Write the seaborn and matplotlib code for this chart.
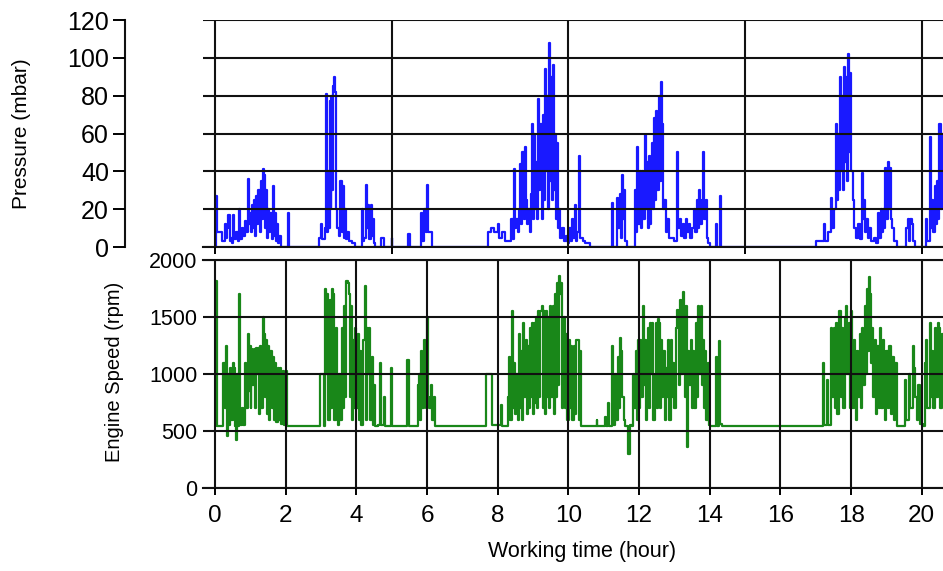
import matplotlib
matplotlib.use("Agg")
import pandas as pd
import matplotlib.pyplot as plt
import seaborn as sns

# pressure samples: (hour, mbar)
pressure_points = [
    (0.0, 0), (0.02, 27), (0.05, 8), (0.19, 8), (0.21, 3), (0.26, 3), (0.28, 12), (0.31, 5),
    (0.35, 10), (0.38, 17), (0.41, 3), (0.45, 5), (0.47, 2), (0.52, 17), (0.55, 4), (0.6, 8),
    (0.64, 3), (0.68, 20), (0.71, 4), (0.76, 10), (0.8, 6), (0.84, 14), (0.88, 8), (0.93, 36),
    (0.96, 12), (0.99, 18), (1.02, 8), (1.05, 22), (1.08, 10), (1.11, 25), (1.14, 6), (1.17, 27),
    (1.2, 12), (1.23, 30), (1.26, 8), (1.29, 35), (1.32, 15), (1.35, 41), (1.38, 38), (1.41, 10),
    (1.44, 30), (1.47, 5), (1.5, 20), (1.53, 8), (1.57, 18), (1.6, 4), (1.63, 32), (1.66, 6),
    (1.69, 18), (1.72, 3), (1.75, 12), (1.78, 2), (1.82, 6), (1.86, 0), (2.06, 18), (2.08, 0),
    (2.93, 5), (2.99, 12), (3.03, 4), (3.1, 10), (3.13, 81), (3.16, 8), (3.19, 40), (3.22, 10),
    (3.24, 77), (3.27, 20), (3.29, 80), (3.32, 30), (3.34, 85), (3.37, 90), (3.4, 82), (3.42, 20),
    (3.45, 10), (3.5, 6), (3.55, 35), (3.58, 8), (3.61, 32), (3.64, 5), (3.67, 20), (3.7, 4),
    (3.74, 8), (3.8, 3), (3.88, 2), (3.95, 0), (4.15, 20), (4.18, 3), (4.22, 5), (4.26, 33),
    (4.29, 10), (4.32, 22), (4.35, 4), (4.4, 22), (4.43, 6), (4.46, 15), (4.49, 2), (4.53, 0),
    (4.71, 5), (4.78, 0), (5.0, 5), (5.02, 0), (5.46, 7), (5.52, 0), (5.83, 18), (5.87, 3),
    (5.92, 20), (5.96, 8), (5.99, 33), (6.02, 8), (6.1, 8), (6.13, 0),
    (7.72, 8), (7.8, 10), (7.9, 8), (8.0, 12), (8.05, 5), (8.12, 8), (8.2, 3), (8.33, 3),
    (8.38, 15), (8.42, 4), (8.46, 41), (8.49, 10), (8.53, 15), (8.56, 8), (8.6, 20), (8.64, 44),
    (8.67, 12), (8.7, 50), (8.73, 15), (8.76, 53), (8.79, 25), (8.82, 12), (8.86, 20), (8.9, 8),
    (8.93, 28), (8.96, 65), (8.99, 15), (9.02, 60), (9.05, 20), (9.09, 45), (9.12, 15), (9.15, 78),
    (9.18, 30), (9.21, 65), (9.24, 15), (9.27, 70), (9.3, 25), (9.33, 94), (9.36, 40), (9.39, 80),
    (9.42, 20), (9.44, 108), (9.47, 35), (9.5, 90), (9.53, 25), (9.55, 96), (9.58, 30), (9.61, 60),
    (9.64, 15), (9.67, 55), (9.7, 10), (9.73, 20), (9.77, 5), (9.82, 10), (9.87, 3), (9.93, 6),
    (9.98, 2), (10.03, 10), (10.06, 3), (10.1, 15), (10.13, 5), (10.18, 22), (10.21, 3), (10.25, 8),
    (10.29, 48), (10.32, 25), (10.34, 5), (10.4, 3), (10.48, 2), (10.6, 0),
    (11.22, 23), (11.25, 0), (11.38, 26), (11.41, 10), (11.45, 28), (11.48, 5), (11.52, 38),
    (11.55, 15), (11.58, 30), (11.61, 3), (11.66, 0), (11.88, 30), (11.91, 8), (11.95, 53),
    (11.98, 12), (12.02, 40), (12.05, 10), (12.09, 40), (12.12, 15), (12.16, 59), (12.19, 20),
    (12.22, 45), (12.25, 10), (12.28, 48), (12.31, 12), (12.34, 30), (12.37, 55), (12.4, 20),
    (12.43, 68), (12.46, 25), (12.49, 72), (12.52, 30), (12.55, 80), (12.58, 35), (12.62, 87),
    (12.65, 65), (12.68, 20), (12.71, 25), (12.75, 8), (12.8, 15), (12.85, 5), (12.92, 5),
    (12.98, 3), (13.08, 50), (13.11, 10), (13.15, 15), (13.19, 6), (13.24, 12), (13.28, 5),
    (13.32, 15), (13.36, 8), (13.4, 12), (13.44, 5), (13.5, 10), (13.55, 20), (13.59, 8),
    (13.63, 25), (13.66, 10), (13.7, 30), (13.73, 12), (13.78, 25), (13.82, 50), (13.85, 15),
    (13.88, 25), (13.92, 5), (13.96, 2), (14.02, 0), (14.18, 12), (14.21, 0), (14.28, 27), (14.31, 0),
    (17.0, 3), (17.15, 3), (17.23, 12), (17.27, 3), (17.35, 8), (17.44, 26), (17.47, 10),
    (17.52, 20), (17.56, 65), (17.59, 25), (17.62, 60), (17.65, 30), (17.68, 90), (17.71, 40),
    (17.74, 80), (17.77, 30), (17.8, 95), (17.83, 45), (17.86, 90), (17.89, 35), (17.92, 102),
    (17.95, 50), (17.98, 92), (18.01, 40), (18.04, 25), (18.08, 10), (18.13, 5), (18.2, 12),
    (18.24, 4), (18.3, 39), (18.33, 15), (18.36, 25), (18.39, 8), (18.43, 15), (18.47, 5),
    (18.52, 10), (18.57, 3), (18.64, 5), (18.7, 2), (18.76, 18), (18.8, 5), (18.84, 20),
    (18.87, 8), (18.91, 20), (18.94, 10), (18.97, 42), (19.0, 15), (19.03, 45), (19.06, 20),
    (19.09, 42), (19.12, 15), (19.16, 10), (19.21, 3), (19.3, 0), (19.56, 10), (19.6, 15),
    (19.64, 3), (19.68, 15), (19.71, 12), (19.75, 3), (19.8, 0),
    (20.12, 15), (20.15, 3), (20.22, 58), (20.25, 10), (20.29, 25), (20.32, 8), (20.36, 32),
    (20.39, 12), (20.42, 35), (20.45, 15), (20.5, 65), (20.53, 20), (20.56, 60), (20.6, 30),
]

# engine speed samples: (hour, rpm)
speed_points = [
    (0.0, 540), (0.03, 1820), (0.06, 540), (0.22, 540), (0.24, 1100), (0.27, 700), (0.3, 1250),
    (0.33, 460), (0.36, 1000), (0.4, 550), (0.43, 1050), (0.46, 600), (0.51, 1100), (0.54, 1050),
    (0.57, 540), (0.6, 420), (0.62, 1000), (0.65, 540), (0.68, 1700), (0.71, 550), (0.75, 700),
    (0.8, 550), (0.86, 1100), (0.89, 700), (0.92, 1350), (0.95, 850), (0.98, 1250), (1.01, 700),
    (1.03, 1220), (1.06, 900), (1.09, 1220), (1.12, 700), (1.16, 1230), (1.19, 1000), (1.22, 1230),
    (1.25, 650), (1.28, 1250), (1.31, 700), (1.35, 1500), (1.38, 1350), (1.41, 800), (1.44, 1300),
    (1.47, 650), (1.5, 1250), (1.53, 600), (1.57, 1200), (1.6, 700), (1.63, 1150), (1.66, 600),
    (1.7, 1100), (1.73, 580), (1.77, 1050), (1.8, 600), (1.84, 1050), (1.88, 560), (1.92, 1030),
    (1.96, 550), (2.0, 1030), (2.04, 540),
    (2.98, 1000), (3.03, 1000), (3.07, 540), (3.1, 1750), (3.13, 1000), (3.17, 1700), (3.2, 600),
    (3.24, 1650), (3.27, 700), (3.31, 1750), (3.34, 1700), (3.37, 600), (3.41, 1400), (3.44, 700),
    (3.47, 550), (3.51, 1000), (3.55, 600), (3.59, 1400), (3.62, 700), (3.65, 1600), (3.68, 800),
    (3.72, 1820), (3.75, 1800), (3.78, 1700), (3.81, 800), (3.84, 1600), (3.87, 600), (3.91, 1300),
    (3.94, 700), (3.97, 1400), (4.0, 700), (4.04, 1350), (4.07, 600), (4.11, 1200), (4.14, 550),
    (4.2, 1300), (4.24, 1770), (4.27, 600), (4.3, 1400), (4.33, 1000), (4.36, 1400), (4.39, 600),
    (4.43, 1150), (4.46, 550), (4.5, 900), (4.53, 540), (4.62, 550), (4.66, 1100), (4.69, 550),
    (4.77, 800), (4.8, 540), (4.97, 1050), (5.0, 540),
    (5.44, 1120), (5.49, 540), (5.74, 900), (5.77, 1000), (5.8, 600), (5.84, 1200), (5.87, 700),
    (5.9, 1300), (5.93, 1150), (5.96, 700), (5.99, 1500), (6.02, 800), (6.06, 700), (6.1, 900),
    (6.13, 600), (6.2, 800), (6.23, 540),
    (7.68, 1000), (7.8, 1000), (7.84, 550), (8.08, 730), (8.11, 540), (8.28, 800), (8.32, 1150),
    (8.35, 600), (8.39, 1550), (8.42, 700), (8.46, 1100), (8.49, 650), (8.53, 1000), (8.56, 600),
    (8.6, 1350), (8.63, 700), (8.66, 1200), (8.69, 600), (8.72, 1450), (8.75, 800), (8.79, 1300),
    (8.82, 650), (8.85, 1250), (8.88, 700), (8.91, 1400), (8.94, 800), (8.97, 1450), (9.0, 650),
    (9.03, 1450), (9.06, 750), (9.09, 1500), (9.12, 700), (9.15, 1550), (9.18, 800), (9.21, 1550),
    (9.24, 1600), (9.27, 700), (9.3, 1550), (9.33, 650), (9.36, 1550), (9.39, 800), (9.42, 1500),
    (9.45, 700), (9.49, 1600), (9.52, 800), (9.55, 1600), (9.58, 650), (9.62, 1700), (9.65, 800),
    (9.67, 1800), (9.7, 900), (9.73, 1860), (9.76, 1700), (9.79, 1800), (9.82, 700), (9.85, 1400),
    (9.88, 1500), (9.91, 700), (9.94, 1350), (9.97, 600), (10.01, 1300), (10.04, 700),
    (10.08, 1250), (10.11, 600), (10.15, 1250), (10.18, 650), (10.22, 1300), (10.26, 1300),
    (10.29, 600), (10.33, 1200), (10.36, 540),
    (10.8, 600), (10.82, 540), (11.04, 620), (11.06, 540), (11.13, 750), (11.16, 540),
    (11.22, 1250), (11.25, 550), (11.33, 1000), (11.36, 600), (11.4, 1150), (11.43, 700),
    (11.47, 1320), (11.5, 1200), (11.53, 800), (11.57, 600), (11.6, 540), (11.7, 300),
    (11.73, 550), (11.8, 540), (11.84, 1000), (11.87, 700), (11.9, 1200), (11.93, 600),
    (11.96, 1300), (11.99, 700), (12.02, 1300), (12.06, 800), (12.1, 1600), (12.13, 900),
    (12.16, 1300), (12.19, 600), (12.22, 1000), (12.25, 1400), (12.28, 700), (12.31, 1450),
    (12.34, 1000), (12.37, 1450), (12.4, 600), (12.44, 1000), (12.47, 1450), (12.5, 700),
    (12.54, 1480), (12.57, 1450), (12.6, 700), (12.63, 1300), (12.66, 800), (12.69, 1200),
    (12.72, 600), (12.76, 1050), (12.79, 800), (12.83, 1300), (12.86, 600), (12.9, 1300),
    (12.93, 800), (12.97, 1100), (13.0, 700), (13.04, 1400), (13.07, 1560), (13.1, 1550),
    (13.13, 900), (13.17, 1650), (13.2, 1000), (13.23, 1720), (13.26, 1600), (13.29, 800),
    (13.32, 1600), (13.35, 700), (13.37, 360), (13.39, 1200), (13.42, 900), (13.46, 1300),
    (13.49, 700), (13.52, 1200), (13.55, 700), (13.6, 1450), (13.63, 800), (13.67, 1600),
    (13.7, 1000), (13.74, 1600), (13.77, 900), (13.8, 1300), (13.83, 700), (13.87, 1200),
    (13.9, 600), (13.94, 1100), (13.97, 550), (14.01, 540), (14.17, 1150), (14.2, 540),
    (14.27, 1290), (14.3, 560), (14.35, 540),
    (17.2, 1100), (17.23, 550), (17.32, 950), (17.35, 550), (17.44, 1400), (17.47, 800),
    (17.51, 1400), (17.54, 700), (17.58, 1450), (17.61, 650), (17.65, 1550), (17.68, 1550),
    (17.71, 800), (17.75, 1400), (17.78, 700), (17.82, 1500), (17.86, 1600), (17.89, 1000),
    (17.93, 1450), (17.96, 700), (18.0, 1550), (18.03, 700), (18.07, 1300), (18.1, 1200),
    (18.13, 600), (18.17, 1200), (18.2, 800), (18.24, 1350), (18.27, 700), (18.31, 1400),
    (18.34, 900), (18.38, 1600), (18.42, 1000), (18.45, 1750), (18.48, 1200), (18.5, 1850),
    (18.53, 1700), (18.57, 1100), (18.6, 1400), (18.63, 800), (18.67, 1300), (18.7, 650),
    (18.74, 1250), (18.78, 700), (18.82, 1400), (18.85, 700), (18.89, 1300), (18.92, 1200),
    (18.96, 600), (19.0, 1200), (19.04, 700), (19.08, 1250), (19.12, 650), (19.16, 1150),
    (19.2, 600), (19.25, 1100), (19.29, 540),
    (19.52, 950), (19.56, 600), (19.63, 1000), (19.67, 700), (19.74, 1250), (19.78, 1050),
    (19.82, 800), (19.86, 600), (19.9, 900), (19.95, 560), (20.02, 540),
    (20.09, 1100), (20.13, 1300), (20.16, 700), (20.22, 1450), (20.25, 800), (20.29, 1200),
    (20.32, 700), (20.36, 1400), (20.4, 800), (20.45, 1450), (20.48, 1400), (20.52, 700),
    (20.56, 1350), (20.6, 1300),
]

top_hour_ticks = [0, 5, 10, 15, 20]
bottom_hour_ticks = [0, 2, 4, 6, 8, 10, 12, 14, 16, 18, 20]
pressure_ticks = [0, 20, 40, 60, 80, 100, 120]
speed_ticks = [0, 500, 1000, 1500, 2000]

pressure = pd.DataFrame(pressure_points, columns=["hour", "mbar"])
speed = pd.DataFrame(speed_points, columns=["hour", "rpm"])

sns.set_theme(style="white")
plt.rcParams["font.family"] = ["Liberation Sans", "DejaVu Sans"]
plt.rcParams["text.color"] = "black"

W, H = 943, 571
fig = plt.figure(figsize=(W / 100, H / 100), dpi=100)
ax1 = fig.add_axes([203 / W, 1 - 247 / H, 740 / W, 227 / H])
ax2 = fig.add_axes([203 / W, 1 - 488 / H, 740 / W, 228 / H])

sns.lineplot(data=pressure, x="hour", y="mbar", ax=ax1, color="#0000ff", lw=1.6, alpha=0.9,
             drawstyle="steps-post", estimator=None, sort=False)
sns.lineplot(data=speed, x="hour", y="rpm", ax=ax2, color="#007a00", lw=1.6, alpha=0.9,
             drawstyle="steps-post", estimator=None, sort=False)

grid_kw = dict(color="#111111", lw=1.5)
for ax in (ax1, ax2):
    ax.set_xlim(-0.34, 20.6)
    ax.set_xlabel("")
    ax.set_ylabel("")
    ax.grid(True, **grid_kw)
    ax.set_axisbelow(False)
    for s in ax.spines.values():
        s.set_color("#111111")
        s.set_linewidth(1.5)
    ax.spines["right"].set_visible(False)

# top panel
ax1.set_ylim(0, 120)
ax1.set_yticks(pressure_ticks)
ax1.set_xticks(top_hour_ticks)
ax1.spines["top"].set_visible(False)
ax1.spines["left"].set_position(("outward", 56))
ax1.tick_params(axis="y", left=True, direction="out", length=8.6, width=1.4,
                labelsize=18, pad=3, colors="black")
ax1.tick_params(axis="x", bottom=True, direction="out", length=5, width=1.4,
                labelbottom=False, colors="black")

# bottom panel
ax2.set_ylim(0, 2000)
ax2.set_yticks(speed_ticks)
ax2.set_xticks(bottom_hour_ticks)
ax2.spines["left"].set_visible(False)
ax2.tick_params(axis="y", left=False, length=0, labelsize=15.5, pad=4, colors="black")
ax2.tick_params(axis="x", bottom=True, direction="out", length=5, width=1.4,
                labelsize=17.5, pad=7, colors="black")

fig.text(22 / W, 1 - 134 / H, "Pressure (mbar)", rotation=90, ha="center", va="center", fontsize=15)
fig.text(114 / W, 1 - 372 / H, "Engine Speed (rpm)", rotation=90, ha="center", va="center", fontsize=14.5)
fig.text(582 / W, 1 - 552 / H, "Working time (hour)", ha="center", va="center", fontsize=15.5)

fig.savefig("out.png", dpi=100)
